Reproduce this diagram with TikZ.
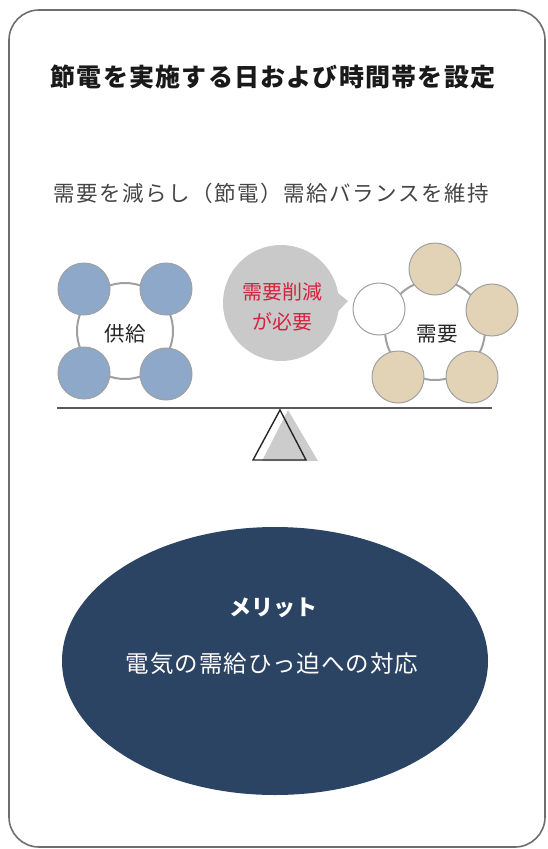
\documentclass[tikz,border=0pt]{standalone}
\usepackage{fontspec}
\setmainfont{Noto Sans CJK JP}
\newfontfamily\jpA[LetterSpace=5]{Noto Sans CJK JP}
\newfontfamily\jpB[LetterSpace=7]{Noto Sans CJK JP}
\newfontfamily\jpC[LetterSpace=4]{Noto Sans CJK JP}
\newfontfamily\jpN{Noto Sans CJK JP}
\definecolor{framegray}{HTML}{6E6E6E}
\definecolor{supply}{HTML}{8DA8C8}
\definecolor{demand}{HTML}{E2D2B6}
\definecolor{ringgray}{HTML}{A0A0A0}
\definecolor{bubble}{HTML}{C9C9C9}
\definecolor{alertred}{HTML}{D2233F}
\definecolor{navy}{HTML}{2C4463}
\definecolor{subgray}{HTML}{444444}
\tikzset{
  frame/.style={draw=framegray, line width=1.6pt, rounded corners=30pt},
  ring/.style={circle, draw=ringgray, line width=2pt, fill=white, inner sep=0pt},
  ball/.style={circle, draw=ringgray, line width=1pt, minimum size=52pt, inner sep=0pt},
  sball/.style={ball, fill=supply},
  dball/.style={ball, fill=demand},
  wball/.style={ball, fill=white},
  lbl/.style={font=\jpN\fontsize{20.5}{22}\selectfont, text=black!85},
}
\begin{document}
\begin{tikzpicture}[x=1pt,y=-1pt]
\useasboundingbox (0,0) rectangle (547,849);
\draw[frame] (9,10) rectangle (545,847);

\node[font=\jpA\bfseries\fontsize{25}{27}\selectfont, text=black!90] (title) at (273,77) {節電を実施する日および時間帯を設定};
\node[font=\jpB\fontsize{21.5}{24}\selectfont, text=subgray] (sub) at (271,193) {需要を減らし（節電）需給バランスを維持};

% supply
\node[ring, minimum size=96pt] (sring) at (125,331) {};
\node[sball] (s1) at (84,289) {};
\node[sball] (s2) at (166,289) {};
\node[sball] (s3) at (84,373) {};
\node[sball] (s4) at (166,374) {};
\node[lbl] (slbl) at (125,334) {供給};

% bubble
\fill[bubble] (281,303) circle (58pt);
\fill[bubble] (328,285) -- (348,301) -- (330,320) -- cycle;
\node[font=\jpN\fontsize{20}{30}\selectfont, text=alertred, align=center] (blbl) at (282,307) {需要削減\\が必要};

% demand
\node[ring, minimum size=100pt] (dring) at (435,330) {};
\node[dball] (d1) at (435,269) {};
\node[dball] (d2) at (492,310) {};
\node[dball] (d3) at (472,377) {};
\node[dball] (d4) at (398,377) {};
\node[wball] (d5) at (379,309) {};
\node[lbl] (dlbl) at (437,334) {需要};

% beam and fulcrum
\coordinate (bl) at (57,408);
\coordinate (br) at (492,408);
\draw[line width=2pt, color=black!65] (bl) -- (br);
\fill[black!20] (288,410) -- (318,461) -- (262,461) -- cycle;
\draw[line width=1.4pt, color=black!85, line join=miter] (280,410) -- (306,460) -- (253,460) -- cycle;

% merit ellipse
\fill[navy] (275,661) ellipse (213pt and 134pt);
\node[font=\jpN\bfseries\fontsize{22}{24}\selectfont, text=white] (m1) at (273,608) {メリット};
\node[font=\jpC\fontsize{23.5}{26}\selectfont, text=white] (m2) at (272,664) {電気の需給ひっ迫への対応};
\end{tikzpicture}
\end{document}
